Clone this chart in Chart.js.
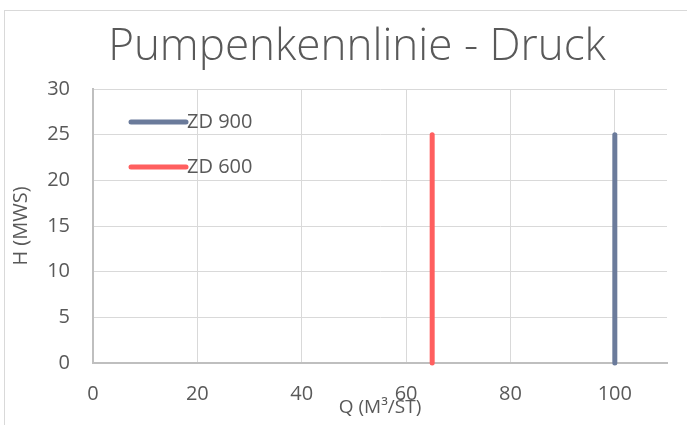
<!DOCTYPE html>
<html>
<head>
<meta charset="utf-8">
<script src="https://cdn.jsdelivr.net/npm/chart.js@4"></script>
<style>
  html, body { margin: 0; padding: 0; background: #fff; }
  #wrap { position: relative; width: 687px; height: 425px; overflow: hidden; }
  #frame { position: absolute; left: 4px; top: 10px; width: 720px; height: 460px; border: 1px solid #d9d9d9; }
  #myChart { position: absolute; left: 0; top: 0; }
</style>
</head>
<body>
<div id="wrap">
  <div id="frame"></div>
  <canvas id="myChart" width="687" height="425"></canvas>
</div>
<script>
// Daten der Pumpenkennlinien
const chartTitle = "Pumpenkennlinie - Druck";
const seriesNames = ["ZD 900", "ZD 600"];
const seriesColors = ["#6b7b9b", "#ff5f5f"];
const zd900Q = [100, 100];
const zd900H = [0, 25];
const zd600Q = [65, 65];
const zd600H = [0, 25];

const xMax = 110;
const xStep = 20;
const yMax = 30;
const yStep = 5;

const textColor = "#595959";
const fontFamily = "'Open Sans', 'Noto Sans', sans-serif";

function toPoints(qs, hs) {
  return qs.map((q, i) => ({ x: q, y: hs[i] }));
}

// Titel (etwas rechts von der Mitte, wie im Original)
const topTitle = {
  id: "topTitle",
  afterDraw(chart) {
    const ctx = chart.ctx;
    ctx.save();
    ctx.fillStyle = textColor;
    ctx.font = "300 44px " + fontFamily;
    ctx.textAlign = "center";
    ctx.textBaseline = "alphabetic";
    ctx.fillText(chartTitle, 357, 60);
    ctx.restore();
  },
};

// Legende innerhalb der Zeichenfläche (oben links)
const innerLegend = {
  id: "innerLegend",
  afterDatasetsDraw(chart) {
    const ctx = chart.ctx;
    const area = chart.chartArea;
    ctx.save();
    chart.data.datasets.forEach((ds, i) => {
      const y = area.top + 33 + i * 45;
      const x0 = area.left + 38;
      ctx.strokeStyle = ds.borderColor;
      ctx.lineWidth = 5;
      ctx.lineCap = "round";
      ctx.beginPath();
      ctx.moveTo(x0, y);
      ctx.lineTo(x0 + 55, y);
      ctx.stroke();
      ctx.fillStyle = textColor;
      ctx.font = "20px " + fontFamily;
      ctx.textBaseline = "middle";
      ctx.fillText(ds.label, x0 + 56, y);
    });
    ctx.restore();
  },
};

document.addEventListener("DOMContentLoaded", () => {
  const ctx = document.getElementById("myChart").getContext("2d");
  new Chart(ctx, {
    type: "scatter",
    data: {
      datasets: [
        {
          label: seriesNames[0],
          data: toPoints(zd900Q, zd900H),
          borderColor: seriesColors[0],
          backgroundColor: seriesColors[0],
        },
        {
          label: seriesNames[1],
          data: toPoints(zd600Q, zd600H),
          borderColor: seriesColors[1],
          backgroundColor: seriesColors[1],
        },
      ],
    },
    options: {
      responsive: false,
      animation: false,
      layout: { padding: { left: 0, right: 20, top: 89, bottom: 0 } },
      datasets: {
        scatter: {
          showLine: true,
          borderWidth: 5,
          borderCapStyle: "round",
          pointRadius: 0,
          clip: false,
        },
      },
      plugins: {
        legend: { display: false },
        tooltip: { enabled: false },
        title: { display: false },
      },
      scales: {
        x: {
          type: "linear",
          min: 0,
          max: xMax,
          afterFit: (scale) => { scale.height = 62; },
          ticks: {
            stepSize: xStep,
            includeBounds: false,
            color: textColor,
            padding: 19,
            font: { family: fontFamily, size: 20 },
          },
          grid: { color: "#d9d9d9", lineWidth: 1, drawTicks: false },
          border: { color: "#bfbfbf", width: 2 },
          title: {
            display: true,
            text: "Q (M³/ST)",
            color: textColor,
            font: { family: fontFamily, size: 19 },
            padding: { top: 0, bottom: 6 },
          },
        },
        y: {
          type: "linear",
          min: 0,
          max: yMax,
          afterFit: (scale) => { scale.width = 93; },
          ticks: {
            stepSize: yStep,
            color: textColor,
            padding: 23,
            font: { family: fontFamily, size: 20 },
          },
          grid: { color: "#d9d9d9", lineWidth: 1, drawTicks: false },
          border: { color: "#bfbfbf", width: 2 },
          title: {
            display: true,
            text: "H (MWS)",
            color: textColor,
            font: { family: fontFamily, size: 20 },
            padding: { top: 9, bottom: 0 },
          },
        },
      },
    },
    plugins: [innerLegend, topTitle],
  });
});
</script>
</body>
</html>
